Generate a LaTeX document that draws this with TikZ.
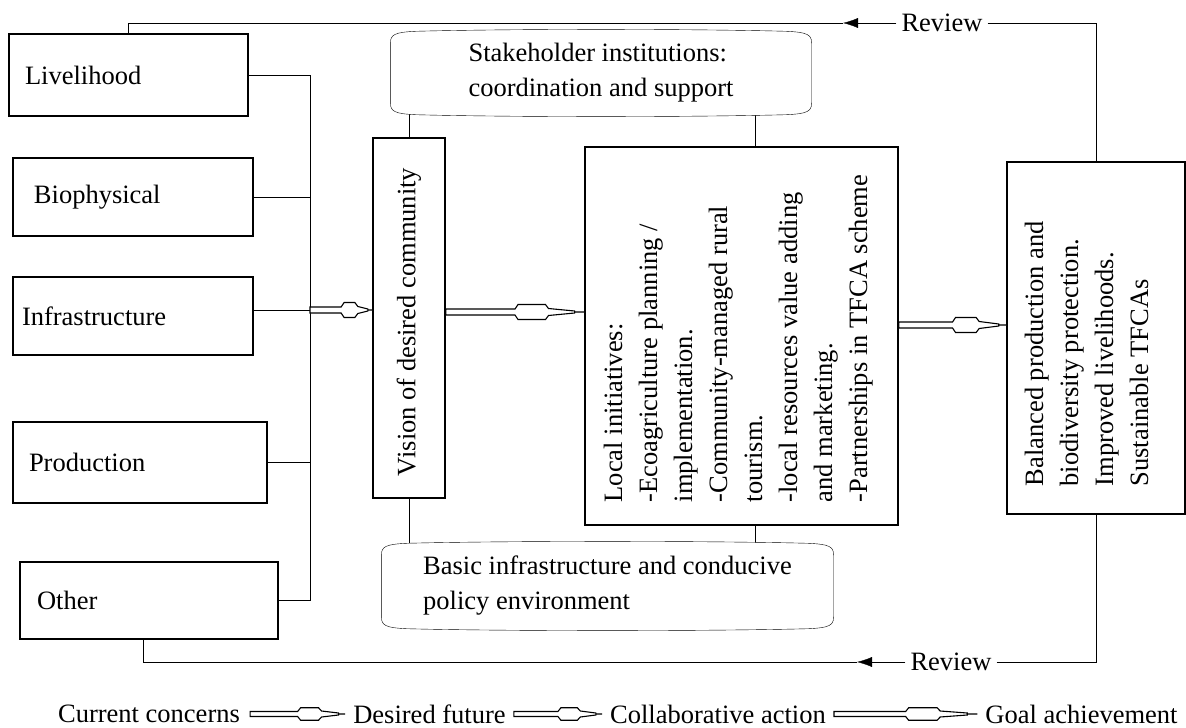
\documentclass[tikz,border=0pt]{standalone}
\usepackage{fontspec}
\setmainfont{LiberationSerif}[Extension=.ttf,UprightFont=*-Regular,BoldFont=*-Bold,ItalicFont=*-Italic,BoldItalicFont=*-BoldItalic]
\usetikzlibrary{calc,arrows.meta}
\pgfdeclarelayer{back}
\pgfdeclarelayer{mid}
\pgfsetlayers{back,mid,main}

% hollow block arrow between two points at the same height
\newcommand\hollowarrow[3][3]{%
\path[draw,fill=white,line width=1.1pt] let \p1=(#2), \p2=(#3), \n1={\x2-\x1},
  \n2={\x1+0.5*\n1}, \n3={\x1+0.72*\n1}, \n4={\x1+0.93*\n1} in
  (\x1,\y1+#1pt) -- (\n2,\y1+#1pt) -- (\n2+3pt,\y1+2.5*#1pt) -- (\n3,\y1+2.5*#1pt)
  -- (\n3+3pt,\y1+#1pt+0.5pt) -- (\n4,\y1+1pt) -- (\n4,\y1-1pt)
  -- (\n3+3pt,\y1-#1pt-0.5pt) -- (\n3,\y1-2.5*#1pt) -- (\n2+3pt,\y1-2.5*#1pt)
  -- (\n2,\y1-#1pt) -- (\x1,\y1-#1pt) -- cycle
  (\n4,\y1) -- (\x2,\y1);}

% box with straight sides and slightly bulging top and bottom
\newcommand\bulgeshape[1]{%
\path[draw,fill=white] let \p1=(#1.north west), \p2=(#1.south east) in
 (\x1,\y1-14pt) .. controls (\x1,\y1-5pt) and (\x1+5pt,\y1-3pt) .. (\x1+25pt,\y1-2pt)
 .. controls (\x1+120pt,\y1+0.5pt) and (\x2-120pt,\y1+0.5pt) .. (\x2-25pt,\y1-2pt)
 .. controls (\x2-5pt,\y1-3pt) and (\x2,\y1-5pt) .. (\x2,\y1-14pt)
 -- (\x2,\y2+14pt) .. controls (\x2,\y2+5pt) and (\x2-5pt,\y2+3pt) .. (\x2-25pt,\y2+2pt)
 .. controls (\x2-120pt,\y2-0.5pt) and (\x1+120pt,\y2-0.5pt) .. (\x1+25pt,\y2+2pt)
 .. controls (\x1+5pt,\y2+3pt) and (\x1,\y2+5pt) .. (\x1,\y2+14pt) -- cycle;}

\begin{document}
\begin{tikzpicture}[x=1pt,y=-1pt,line width=1.4pt,
  every node/.style={font=\fontsize{26.5}{35}\selectfont},
  box/.style={draw, inner sep=0pt},
  leftbox/.style={draw, align=left, inner ysep=0pt},
  rtext/.style={rotate=90, align=left, inner sep=0pt, anchor=north west},
  revarrow/.style={-{Latex[length=15pt,width=10pt]}}]
\useasboundingbox (0,0) rectangle (1186,728);

% left concern boxes
\node[leftbox, minimum height=82pt, text width=207pt, inner xsep=16pt] (live) at (128.5,75) {Livelihood};
\node[leftbox, minimum height=78pt, text width=198pt, inner xsep=21pt] (bio) at (133,197) {Biophysical};
\node[leftbox, minimum height=78pt, text width=222pt, inner xsep=9pt] (infra) at (133,316) {Infrastructure};
\node[leftbox, minimum height=81pt, text width=222pt, inner xsep=16pt] (prod) at (140,462.5) {Production};
\node[leftbox, minimum height=77pt, text width=224pt, inner xsep=17pt] (other) at (149,600.5) {Other};

% vision
\node[box, minimum width=72pt, minimum height=360pt] (vis) at (409,318) {};
\node[rotate=90, inner sep=0pt] (vistxt) at (409,322) {Vision of desired community};

% local initiatives
\node[box, minimum width=313pt, minimum height=378pt] (loc) at (741.5,336) {};
\node[rtext] (loctxt) at (603,503) {Local initiatives:\\-Ecoagriculture planning /\\implementation.\\-Community-managed rural\\tourism.\\-local resources value adding\\and marketing.\\-Partnerships in TFCA scheme};

% result
\node[box, minimum width=178pt, minimum height=352pt] (res) at (1096,338) {};
\node[rtext] (restxt) at (1024,487) {Balanced production and\\biodiversity protection.\\Improved livelihoods.\\Sustainable TFCAs};

% rounded support boxes
\node[inner sep=0pt, minimum width=420pt, minimum height=86pt, align=left] (stake) at (601,73) {Stakeholder institutions:\\coordination and support};
\node[inner sep=0pt, minimum width=451pt, minimum height=88pt, align=left] (basic) at (607.5,586) {Basic infrastructure and conducive\\policy environment};

\begin{pgfonlayer}{mid}
\bulgeshape{stake}
\bulgeshape{basic}
\end{pgfonlayer}

\coordinate (c1) at (755,0);
\begin{pgfonlayer}{back}
\draw (vis.north) -- (vis.north |- stake.center);
\draw (c1 |- loc.north) -- (c1 |- stake.center);
\draw (vis.south) -- (vis.south |- basic.center);
\draw (c1 |- loc.south) -- (c1 |- basic.center);
\end{pgfonlayer}

% bus from concerns
\coordinate (bus) at (310,0);
\coordinate (j) at (310,310);
\draw (live.east) -- (live.east -| bus) -- (other.east -| bus) -- (other.east);
\draw (bio.east) -- (bio.east -| bus);
\draw (prod.east) -- (prod.east -| bus);
\draw (infra.east |- j) -- (j);

% main flow arrows
\coordinate (a2) at (0,312);
\coordinate (a3) at (0,325);
\hollowarrow{j}{j -| vis.west}
\hollowarrow{vis.east |- a2}{loc.west |- a2}
\hollowarrow{loc.east |- a3}{res.west |- a3}

% review loops
\node[inner xsep=5pt, inner ysep=0pt] (revT) at (942,23) {Review};
\node[inner xsep=5pt, inner ysep=0pt] (revB) at (951,662) {Review};
\coordinate (rt) at (843,0);
\coordinate (bt) at (857,0);
\coordinate (ob) at (143,0);
\draw[revarrow] (revT.west) -- (revT.west -| rt);
\draw (revT.west -| rt) -- (revT.west -| live.north) -- (live.north);
\draw (revT.east) -- (revT.east -| res.north) -- (res.north);
\draw[revarrow] (revB.west) -- (revB.west -| bt);
\draw (revB.west -| bt) -- (revB.west -| ob) -- (ob |- other.south);
\draw (revB.east) -- (revB.east -| res.south) -- (res.south);

% legend
\node[inner xsep=10pt] (cc) at (149,714) {Current concerns};
\node[inner xsep=8pt] (df) at (429.5,714) {Desired future};
\node[inner xsep=8pt] (ca) at (718,714) {Collaborative action};
\node[inner xsep=8pt] (ga) at (1081.5,714) {Goal achievement};
\hollowarrow[2.5]{cc.east}{df.west}
\hollowarrow[2.5]{df.east}{ca.west}
\hollowarrow[2.5]{ca.east}{ga.west}
\end{tikzpicture}
\end{document}
